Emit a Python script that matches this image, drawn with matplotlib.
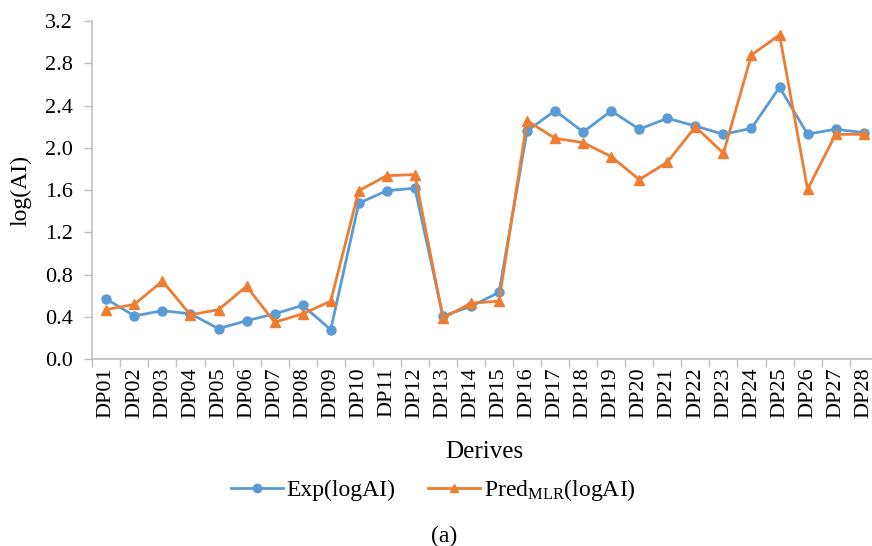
import matplotlib
matplotlib.use("Agg")
import matplotlib.pyplot as plt
import numpy as np
from matplotlib.ticker import FixedLocator, FormatStrFormatter

plt.rcParams['font.family'] = ['Liberation Serif', 'DejaVu Serif']
plt.rcParams['mathtext.fontset'] = 'custom'
plt.rcParams['mathtext.rm'] = 'Liberation Serif'
plt.rcParams['mathtext.it'] = 'Liberation Serif:italic'

categories = ["DP%02d" % i for i in range(1, 29)]
exp_vals = [0.57, 0.41, 0.46, 0.43, 0.29, 0.365, 0.43, 0.51, 0.28,
            1.476, 1.595, 1.618, 0.41, 0.50, 0.634, 2.16, 2.352, 2.15,
            2.35, 2.176, 2.28, 2.207, 2.128, 2.185, 2.573, 2.13, 2.176, 2.144]
pred_vals = [0.47, 0.52, 0.74, 0.42, 0.47, 0.69, 0.35, 0.43, 0.55,
             1.595, 1.737, 1.747, 0.39, 0.53, 0.55, 2.257, 2.09, 2.05,
             1.917, 1.70, 1.864, 2.20, 1.949, 2.879, 3.068, 1.608, 2.128, 2.128]
yticks = [0.0, 0.4, 0.8, 1.2, 1.6, 2.0, 2.4, 2.8, 3.2]

W, H = 872, 546
fig = plt.figure(figsize=(W / 100, H / 100), dpi=100)
left = 92.3 / W
bottom = (H - 359.3) / H
top = (H - 21.0) / H
width = 785.4 / W
ax = fig.add_axes([left, bottom, width, top - bottom])

x = np.arange(len(categories))
blue = '#5B9BD5'
orange = '#ED7D31'
ax.plot(x, exp_vals, color=blue, lw=2.0, marker='o', markersize=6.5,
        label='Exp(logAI)', zorder=3)
ax.plot(x, pred_vals, color=orange, lw=2.0, marker='^', markersize=7,
        label=r'Pred$_{\mathrm{MLR}}$(logAI)', zorder=4)

ax.set_xlim(-0.5, len(categories) - 0.5)
ax.set_ylim(0, 3.2)
ax.set_yticks(yticks)
ax.yaxis.set_major_formatter(FormatStrFormatter('%.1f'))
ax.set_xticks(x)
ax.set_xticklabels(categories, rotation=90, fontsize=16)
ax.xaxis.set_minor_locator(FixedLocator(np.arange(-0.5, len(categories), 1.0)))
ax.tick_params(axis='x', which='major', length=0, pad=6)
ax.tick_params(axis='x', which='minor', length=6, color='#bfbfbf', width=1)
ax.tick_params(axis='y', which='major', length=6, color='#bfbfbf', width=1,
               labelsize=16, pad=8)

for s in ['top', 'right']:
    ax.spines[s].set_visible(False)
for s in ['left', 'bottom']:
    ax.spines[s].set_color('#bfbfbf')
    ax.spines[s].set_linewidth(1.2)

fig.text(21 / W, 1 - 190 / H, 'log(AI)', rotation=90, ha='center', va='center', fontsize=17)
fig.text(484 / W, 1 - 452 / H, 'Derives', ha='center', va='center', fontsize=18)
fig.text(444 / W, 1 - 536 / H, '(a)', ha='center', va='center', fontsize=17)

leg = fig.legend(loc='center', bbox_to_anchor=(433 / W, 1 - 490 / H), ncol=2,
                 frameon=False, fontsize=17, handlelength=2.2, columnspacing=1.4,
                 handletextpad=0.15, borderaxespad=0)
for h in leg.legend_handles:
    h.set_markersize(6)

fig.savefig('out.png', dpi=100)
